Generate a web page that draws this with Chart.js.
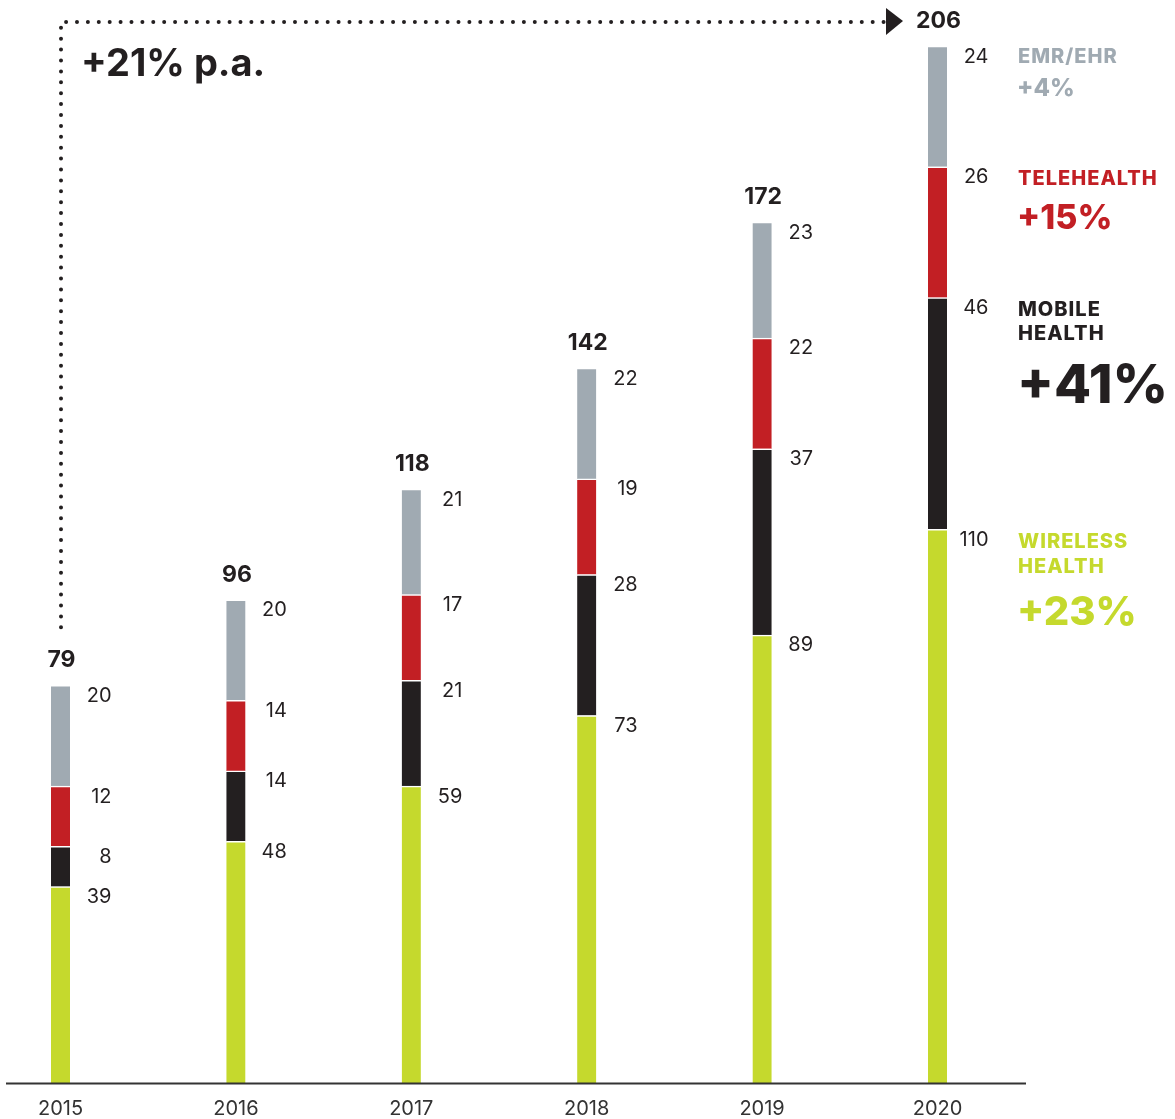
<!DOCTYPE html>
<html><head><meta charset="utf-8">
<script src="https://cdn.jsdelivr.net/npm/chart.js@4.4.1/dist/chart.umd.min.js"></script>
<style>html,body{margin:0;padding:0;background:#fff}#wrap{width:1175px;height:1119px;position:relative}</style>
</head><body><div id="wrap"><canvas id="c"></canvas></div>
<script>
const years = ['2015','2016','2017','2018','2019','2020'];
const wireless = [39,48,59,73,89,110];
const mobile = [8,14,21,28,37,46];
const tele = [12,14,17,19,22,26];
const emr = [20,20,21,22,23,24];
const totals = [79,96,118,142,172,206];
const seriesNames = [['WIRELESS','HEALTH'],['MOBILE','HEALTH'],['TELEHEALTH'],['EMR/EHR']];
const growth = ['+23%','+41%','+15%','+4%'];
const cagrLabel = '+21% p.a.';

const colors = ['#C5D92D','#231F20','#C21F24','#A0AAB2'];
const FONT = 'Inter, "Noto Sans", sans-serif';

const ds = [wireless, mobile, tele, emr].map((d,i)=>({
  label: seriesNames[i].join(' '),
  data: d,
  backgroundColor: colors[i],
  borderColor: '#ffffff',
  borderWidth: {top: 1.5, bottom: 0, left: 0, right: 0},
  borderSkipped: false,
  barThickness: 19,
  clip: false
}));

const annot = {
  id: 'annot',
  afterDatasetsDraw(chart){
    const ctx = chart.ctx, xs = chart.scales.x, ys = chart.scales.y;
    ctx.save();
    // axis line
    ctx.strokeStyle = '#333'; ctx.lineWidth = 2;
    ctx.beginPath(); ctx.moveTo(6, ys.getPixelForValue(0)+0.5); ctx.lineTo(1026, ys.getPixelForValue(0)+0.5); ctx.stroke();
    // segment value labels
    ctx.font = '20px ' + FONT; ctx.fillStyle = '#231F20';
    ctx.textAlign = 'right'; ctx.textBaseline = 'middle';
    const sets = [wireless, mobile, tele, emr];
    years.forEach((y,i)=>{
      const cx = xs.getPixelForValue(i);
      let cum = 0;
      sets.forEach(s=>{
        cum += s[i];
        ctx.fillText(String(s[i]), cx+51, ys.getPixelForValue(cum)+10.5);
      });
    });
    // totals
    ctx.font = 'bold 23px ' + FONT; ctx.textAlign = 'center';
    years.forEach((y,i)=>{
      const cx = xs.getPixelForValue(i);
      let cum = sets.reduce((a,s)=>a+s[i],0);
      ctx.fillText(String(totals[i]), cx+1, ys.getPixelForValue(cum)-25);
    });
    // dotted CAGR line
    const x0 = xs.getPixelForValue(0)+0.5;
    const yStart = ys.getPixelForValue(totals[0]) - 58;
    const yTop = 22;
    ctx.strokeStyle = '#231F20'; ctx.lineWidth = 4; ctx.lineCap = 'round';
    ctx.setLineDash([0, 10.9]);
    ctx.beginPath(); ctx.moveTo(x0, yStart); ctx.lineTo(x0, yTop); ctx.lineTo(884, yTop); ctx.stroke();
    ctx.setLineDash([]);
    ctx.fillStyle = '#231F20';
    ctx.beginPath(); ctx.moveTo(886, 8); ctx.lineTo(903, 21); ctx.lineTo(886, 35); ctx.closePath(); ctx.fill();
    ctx.font = 'bold 38px ' + FONT; ctx.textAlign = 'left';
    ctx.fillText(cagrLabel, 81, 65);
    // legend at right
    const lx = 1018;
    const pctSize = [40,54,34,24];
    const pctOff = [71,77,40,32];
    const nameOff = [13,12,12,11];
    let cum = 0;
    const last = years.length-1;
    sets.forEach((s,k)=>{
      cum += s[last];
      const ty = ys.getPixelForValue(cum) + nameOff[k];
      ctx.fillStyle = colors[k];
      ctx.textAlign = 'left';
      ctx.font = '800 20px ' + FONT;
      ctx.letterSpacing = '1px';
      seriesNames[k].forEach((ln,j)=>ctx.fillText(ln, lx, ty + j*24.5));
      ctx.letterSpacing = '0px';
      ctx.font = '800 ' + pctSize[k] + 'px ' + FONT;
      ctx.fillText(growth[k], lx-1, ty + pctOff[k]);
    });
    ctx.restore();
  }
};

new Chart(document.getElementById('c'), {
  type: 'bar',
  data: { labels: years, datasets: ds },
  options: {
    responsive: true, maintainAspectRatio: false, animation: false,
    layout: { padding: { left: 60.5, right: 237.5, top: 46, bottom: 0 } },
    plugins: { legend: { display: false }, tooltip: { enabled: false } },
    scales: {
      x: { stacked: true, offset: false,
           grid: { display: false, drawTicks: false }, border: { display: false },
           ticks: { padding: 14, font: { family: FONT, size: 20 }, color: '#333', maxRotation: 0 },
           afterFit: (s) => { s.height = 36; } },
      y: { stacked: true, display: false, min: 0, max: 206 }
    }
  },
  plugins: [annot]
});
</script></body></html>
